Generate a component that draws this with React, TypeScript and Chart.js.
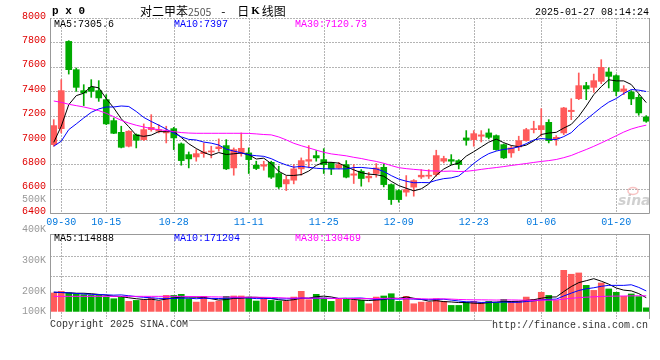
import React, { useEffect, useRef } from "react";
import { Chart, registerables } from "chart.js";

Chart.register(...registerables);

// ---------------- DATA ----------------
const DATES = [
  "09-27", "09-30",
  "10-08", "10-09", "10-10", "10-11", "10-14", "10-15", "10-16", "10-17", "10-18", "10-21",
  "10-22", "10-23", "10-24", "10-25", "10-28", "10-29", "10-30", "10-31",
  "11-01", "11-04", "11-05", "11-06", "11-07", "11-08", "11-11", "11-12", "11-13", "11-14",
  "11-15", "11-18", "11-19", "11-20", "11-21", "11-22", "11-25", "11-26", "11-27", "11-28", "11-29",
  "12-02", "12-03", "12-04", "12-05", "12-06", "12-09", "12-10", "12-11", "12-12", "12-13",
  "12-16", "12-17", "12-18", "12-19", "12-20", "12-23", "12-24", "12-25", "12-26", "12-27",
  "12-30", "12-31",
  "01-02", "01-03", "01-06", "01-07", "01-08", "01-09", "01-10", "01-13", "01-14", "01-15",
  "01-16", "01-17", "01-20", "01-21", "01-22", "01-23", "01-24",
];

const TICK_DATES = ["09-30", "10-15", "10-28", "11-11", "11-25", "12-09", "12-23", "01-06", "01-20"];

const OPEN = [
  6961, 7092, 7808, 7576, 7404, 7431, 7404, 7330, 7158, 7062,
  6948, 7043, 7002, 7084, 7071, 7057, 7092, 6967, 6879, 6860,
  6887, 6901, 6928, 6953, 6770, 6893, 6893, 6792, 6784, 6816,
  6724, 6639, 6669, 6762, 6825, 6871, 6838, 6811, 6770, 6797,
  6710, 6743, 6688, 6724, 6775, 6633, 6584, 6571, 6612, 6696,
  6702, 6715, 6825, 6838, 6830, 7016, 7002, 7030, 7057, 7035,
  6961, 6893, 6942, 6994, 7084, 7084, 7144, 7008, 7057, 7232,
  7338, 7445, 7431, 7480, 7557, 7527, 7398, 7393, 7349, 7188,
];
const HIGH = [
  7166, 7494, 7814, 7590, 7453, 7494, 7486, 7371, 7180, 7112,
  7076, 7049, 7131, 7207, 7125, 7112, 7103, 6975, 6901, 6920,
  6975, 6948, 7008, 7002, 6934, 7057, 6934, 6825, 6825, 6825,
  6784, 6702, 6797, 6852, 6953, 6912, 6928, 6816, 6816, 6830,
  6797, 6756, 6734, 6806, 6803, 6639, 6592, 6707, 6674, 6756,
  6756, 6915, 6866, 6879, 6838, 7076, 7076, 7076, 7090, 7041,
  6967, 6948, 7030, 7095, 7153, 7256, 7166, 7035, 7267, 7338,
  7549, 7472, 7540, 7658, 7590, 7535, 7445, 7404, 7371, 7199,
];
const LOW = [
  6948, 7057, 7540, 7398, 7281, 7349, 7316, 7125, 7051, 6934,
  6942, 6934, 6994, 7071, 7057, 6975, 6920, 6792, 6770, 6825,
  6857, 6852, 6907, 6756, 6710, 6866, 6724, 6756, 6751, 6683,
  6601, 6584, 6639, 6710, 6770, 6825, 6724, 6715, 6762, 6688,
  6642, 6620, 6655, 6694, 6614, 6470, 6489, 6538, 6538, 6683,
  6683, 6702, 6811, 6797, 6762, 6956, 6948, 6983, 7008, 6915,
  6847, 6857, 6912, 6989, 7057, 7030, 6975, 6956, 7043, 7166,
  7330, 7330, 7390, 7461, 7426, 7363, 7371, 7289, 7202, 7144,
];
const CLOSE = [
  7117, 7404, 7576, 7431, 7385, 7398, 7344, 7131, 7054, 6939,
  7071, 6997, 7084, 7103, 7084, 7068, 7016, 6830, 6844, 6887,
  6901, 6907, 6942, 6762, 6920, 6931, 6838, 6765, 6797, 6694,
  6614, 6674, 6762, 6830, 6838, 6852, 6797, 6762, 6797, 6694,
  6721, 6683, 6702, 6770, 6633, 6510, 6510, 6592, 6666, 6710,
  6710, 6871, 6847, 6825, 6797, 6997, 7051, 7041, 7021, 6920,
  6852, 6934, 6994, 7084, 7092, 7117, 6994, 7021, 7262, 7243,
  7445, 7418, 7486, 7595, 7521, 7398, 7418, 7336, 7221, 7153,
];

const MA5 = [
  6980, 7112, 7289, 7363, 7383, 7439, 7427, 7338, 7262, 7173,
  7108, 7038, 7029, 7039, 7068, 7067, 7071, 7020, 6968, 6929,
  6896, 6874, 6896, 6880, 6886, 6892, 6879, 6843, 6850, 6805,
  6742, 6709, 6708, 6715, 6744, 6791, 6816, 6816, 6809, 6780,
  6754, 6731, 6719, 6714, 6702, 6660, 6625, 6603, 6582, 6598,
  6638, 6710, 6761, 6793, 6810, 6867, 6903, 6942, 6981, 7006,
  6977, 6954, 6944, 6957, 6991, 7044, 7056, 7062, 7097, 7127,
  7193, 7278, 7371, 7437, 7493, 7484, 7484, 7454, 7379, 7305.6,
];
const MA10 = [
  6948, 6989, 7084, 7131, 7180, 7226, 7254, 7270, 7270, 7278,
  7274, 7233, 7184, 7151, 7121, 7088, 7055, 7025, 7004, 6999,
  6982, 6973, 6958, 6924, 6908, 6894, 6877, 6870, 6865, 6846,
  6817, 6794, 6776, 6783, 6775, 6767, 6763, 6762, 6762, 6762,
  6773, 6774, 6768, 6762, 6741, 6707, 6678, 6661, 6648, 6650,
  6649, 6668, 6682, 6688, 6704, 6753, 6807, 6852, 6887, 6908,
  6922, 6929, 6943, 6969, 6999, 7011, 7005, 7003, 7027, 7059,
  7119, 7167, 7217, 7267, 7310, 7339, 7381, 7413, 7408, 7397,
];
const MA30 = [
  7319, 7308, 7292, 7281, 7270, 7256, 7240, 7218, 7190, 7160,
  7138, 7120, 7106, 7092, 7084, 7076, 7068, 7060, 7056, 7054,
  7054, 7054, 7054, 7054, 7054, 7054, 7053, 7049, 7044, 7041,
  7024, 7000, 6972, 6952, 6934, 6916, 6898, 6885, 6877, 6869,
  6857, 6847, 6834, 6823, 6808, 6789, 6772, 6764, 6758, 6753,
  6746, 6745, 6742, 6744, 6740, 6742, 6749, 6758, 6766, 6773,
  6781, 6790, 6798, 6806, 6815, 6823, 6830, 6839, 6854, 6872,
  6897, 6921, 6947, 6975, 7004, 7034, 7064, 7089, 7107, 7120.73,
];

const VOLUME = [
  154000, 168000, 154000, 146000, 140000, 134000, 134000, 120000, 106000, 126000,
  84000, 92000, 94000, 112000, 84000, 134000, 134000, 143000, 106000, 78000,
  126000, 78000, 86000, 126000, 129000, 129000, 120000, 87000, 106000, 92000,
  87000, 84000, 120000, 168000, 98000, 143000, 112000, 84000, 101000, 106000,
  92000, 92000, 64000, 120000, 129000, 148000, 84000, 126000, 64000, 78000,
  78000, 106000, 84000, 50000, 50000, 78000, 84000, 73000, 84000, 73000,
  101000, 84000, 84000, 120000, 101000, 160000, 134000, 92000, 344000, 311000,
  322000, 218000, 176000, 238000, 188000, 160000, 126000, 146000, 124000, 30000,
];
const VOL_MA5 = [
  160000, 158000, 156000, 152000, 152000, 148000, 142000, 135000, 127000, 124000,
  114000, 106000, 100000, 102000, 93000, 103000, 112000, 121000, 120000, 119000,
  117000, 106000, 95000, 99000, 109000, 110000, 118000, 118000, 114000, 107000,
  98000, 91000, 98000, 110000, 111000, 123000, 128000, 121000, 108000, 109000,
  99000, 95000, 91000, 95000, 99000, 111000, 109000, 121000, 110000, 100000,
  86000, 90000, 82000, 79000, 74000, 74000, 69000, 67000, 74000, 78000,
  83000, 83000, 85000, 92000, 98000, 110000, 120000, 121000, 166000, 208000,
  241000, 257000, 274000, 253000, 228000, 196000, 178000, 172000, 149000, 114888,
];
const VOL_MA10 = [
  162000, 158000, 155000, 150000, 146000, 143000, 141000, 139000, 136000, 138000,
  131000, 124000, 118000, 114000, 109000, 109000, 109000, 111000, 111000, 106000,
  110000, 109000, 108000, 110000, 114000, 114000, 112000, 107000, 107000, 108000,
  104000, 105000, 108000, 112000, 109000, 111000, 110000, 109000, 109000, 110000,
  111000, 112000, 106000, 101000, 104000, 105000, 102000, 106000, 103000, 100000,
  98000, 100000, 102000, 95000, 87000, 80000, 80000, 75000, 77000, 76000,
  78000, 76000, 76000, 83000, 88000, 96000, 101000, 103000, 129000, 153000,
  175000, 189000, 198000, 210000, 218000, 218000, 218000, 223000, 201000, 171204,
];
const VOL_MA30 = [
  126000, 126000, 126000, 126000, 126000, 126000, 126000, 126000, 126000, 126000,
  126000, 126000, 126000, 126000, 126000, 126000, 126000, 126000, 125000, 124000,
  123000, 122000, 121000, 120000, 120000, 119000, 119000, 118000, 118000, 117000,
  115000, 112000, 111000, 112000, 111000, 111000, 110000, 109000, 109000, 108000,
  108000, 108000, 107000, 108000, 109000, 110000, 108000, 107000, 106000, 106000,
  104000, 105000, 105000, 103000, 100000, 98000, 97000, 97000, 96000, 95000,
  96000, 96000, 95000, 93000, 93000, 94000, 94000, 95000, 103000, 110000,
  115000, 119000, 122000, 125000, 127000, 128000, 129000, 130000, 131000, 130469,
];

// axis setup values
const PRICE_MIN = 6400;
const PRICE_MAX = 8000;
const PRICE_STEP = 200;
const VOL_MIN = -72000;
const VOL_MAX = 648000;
const VOL_GRID = [300000, 468000];
const VOL_LABELS = [500000, 400000, 300000, 200000, 100000];
const VOL_LABEL_MIN = 104900;
const VOL_LABEL_MAX = 385900;

const SYMBOL = "p x 0";
const TITLE_NAME = "对二甲苯";
const TITLE_CODE = "2505";
const TITLE_DAY = "日";
const TITLE_K = "K";
const TITLE_REST = "线图";
const TIMESTAMP = "2025-01-27 08:14:24";
const COPYRIGHT = "Copyright 2025 SINA.COM";
const SITE = "http://finance.sina.com.cn";

// ---------------- STYLE ----------------
const UP = "#ff5b5b";
const DOWN = "#00aa00";
const C_MA5 = "#000000";
const C_MA10 = "#0000ff";
const C_MA30 = "#ff00ff";
const FRAME = "#999999";
const GRID = "#b4b4b4";
const MONO = "'Liberation Mono', 'DejaVu Sans Mono', monospace";
const CJK = "'Noto Sans CJK SC', 'Noto Sans', sans-serif";

const TICK_SET = new Set(TICK_DATES);
const isTick = (i: number) => TICK_SET.has(DATES[i]);
const candleColors = DATES.map((_, i) => (CLOSE[i] >= OPEN[i] ? UP : DOWN));

const fmtK = (v: number) => `${Math.round(v / 1000)}K`;

function drawFrame(ctx: CanvasRenderingContext2D, a: any, withTop: boolean) {
  ctx.save();
  ctx.strokeStyle = FRAME;
  ctx.lineWidth = 1;
  ctx.setLineDash([]);
  ctx.beginPath();
  if (withTop) {
    ctx.moveTo(a.left + 0.5, Math.round(a.top) + 0.5);
    ctx.lineTo(a.right - 0.5, Math.round(a.top) + 0.5);
  }
  ctx.moveTo(a.left + 0.5, a.top);
  ctx.lineTo(a.left + 0.5, Math.round(a.bottom) + 0.5);
  ctx.lineTo(a.right - 0.5, Math.round(a.bottom) + 0.5);
  ctx.lineTo(a.right - 0.5, a.top);
  ctx.stroke();
  ctx.restore();
}

// grid lines drawn from the chart's own scales, beneath the candles
function drawGrid(chart: any, yValues: number[]) {
  const ctx: CanvasRenderingContext2D = chart.ctx;
  const a = chart.chartArea;
  const xs = chart.scales.x;
  const ys = chart.scales.y;
  ctx.save();
  ctx.strokeStyle = GRID;
  ctx.lineWidth = 1;
  ctx.setLineDash([2, 1]);
  ctx.beginPath();
  for (const v of yValues) {
    const y = Math.round(ys.getPixelForValue(v)) + 0.5;
    ctx.moveTo(a.left, y);
    ctx.lineTo(a.right, y);
  }
  for (let i = 0; i < DATES.length; i++) {
    if (!isTick(i)) continue;
    const x = Math.round(xs.getPixelForValue(i)) + 0.5;
    ctx.moveTo(x, a.top);
    ctx.lineTo(x, a.bottom);
  }
  ctx.stroke();
  ctx.restore();
}

function maLegend(ctx: CanvasRenderingContext2D, a: any, y: number, items: [string, string][]) {
  ctx.save();
  ctx.font = `10px ${MONO}`;
  ctx.textBaseline = "middle";
  ctx.textAlign = "left";
  const xs = [a.left + 4, a.left + 124, a.left + 245];
  items.forEach(([t, c], k) => {
    ctx.fillStyle = c;
    ctx.fillText(t, xs[k], y);
  });
  ctx.restore();
}

const PRICE_GRID_VALUES: number[] = [];
for (let v = PRICE_MIN; v <= PRICE_MAX; v += PRICE_STEP) PRICE_GRID_VALUES.push(v);

const pricePlugin = {
  id: "priceDecor",
  beforeDatasetsDraw(chart: any) {
    drawGrid(chart, PRICE_GRID_VALUES);
  },
  afterDraw(chart: any) {
    const ctx: CanvasRenderingContext2D = chart.ctx;
    const a = chart.chartArea;
    drawFrame(ctx, a, false);
    ctx.save();
    ctx.textBaseline = "middle";
    // symbol
    ctx.fillStyle = "#000";
    ctx.font = `bold 11px ${MONO}`;
    ctx.fillText(SYMBOL, a.left + 2, 11);
    // title
    let x = 140;
    ctx.font = `12px ${CJK}`;
    ctx.fillText(TITLE_NAME, x, 11);
    x += ctx.measureText(TITLE_NAME).width;
    ctx.fillStyle = "#555";
    ctx.font = `10.5px ${CJK}`;
    ctx.fillText(TITLE_CODE, x, 12);
    x += ctx.measureText(TITLE_CODE).width + 10;
    ctx.fillStyle = "#000";
    ctx.font = `12px ${CJK}`;
    ctx.fillText("-", x, 11);
    x += 16;
    ctx.fillText(TITLE_DAY, x, 11);
    x += ctx.measureText(TITLE_DAY).width + 2;
    ctx.font = `bold 11px 'Liberation Serif', serif`;
    ctx.fillText(TITLE_K, x, 11);
    x += ctx.measureText(TITLE_K).width + 2;
    ctx.font = `12px ${CJK}`;
    ctx.fillText(TITLE_REST, x, 11);
    // timestamp
    ctx.font = `10px ${MONO}`;
    ctx.textAlign = "right";
    ctx.fillText(TIMESTAMP, a.right - 1, 12);
    ctx.textAlign = "left";
    // sina watermark
    ctx.font = `italic bold 14px 'DejaVu Sans', sans-serif`;
    ctx.fillStyle = "rgba(150,150,150,0.45)";
    ctx.fillText("sina", a.right - 32, a.bottom - 12);
    ctx.strokeStyle = "rgba(240,120,120,0.45)";
    ctx.lineWidth = 1.5;
    ctx.beginPath();
    ctx.ellipse(a.right - 17, a.bottom - 22, 5, 3.5, 0, 0, Math.PI * 2);
    ctx.stroke();
    ctx.restore();
    maLegend(ctx, a, a.top + 6, [
      [`MA5:${MA5[MA5.length - 1]}`, C_MA5],
      [`MA10:${MA10[MA10.length - 1]}`, C_MA10],
      [`MA30:${MA30[MA30.length - 1]}`, C_MA30],
    ]);
  },
};

const volPlugin = {
  id: "volDecor",
  beforeDatasetsDraw(chart: any) {
    drawGrid(chart, VOL_GRID);
  },
  afterDraw(chart: any) {
    const ctx: CanvasRenderingContext2D = chart.ctx;
    const a = chart.chartArea;
    drawFrame(ctx, a, true);
    maLegend(ctx, a, a.top + 4, [
      [`MA5:${VOL_MA5[VOL_MA5.length - 1]}`, C_MA5],
      [`MA10:${VOL_MA10[VOL_MA10.length - 1]}`, C_MA10],
      [`MA30:${VOL_MA30[VOL_MA30.length - 1]}`, C_MA30],
    ]);
    const yl = chart.scales.yl;
    ctx.save();
    ctx.font = `10px ${MONO}`;
    ctx.textBaseline = "middle";
    ctx.textAlign = "right";
    ctx.fillStyle = "#999";
    VOL_LABELS.forEach((v) => {
      const y = Math.min(yl.getPixelForValue(v), a.bottom - 9);
      ctx.fillText(fmtK(v), a.left - 4, y);
    });
    // footer
    ctx.textAlign = "left";
    ctx.font = `10px ${MONO}`;
    const cy = a.bottom + 4;
    const w1 = ctx.measureText(COPYRIGHT).width;
    ctx.fillStyle = "#fff";
    ctx.fillRect(a.left, a.bottom - 1, w1 + 1, 11);
    ctx.fillStyle = "#333";
    ctx.fillText(COPYRIGHT, a.left, cy);
    ctx.textAlign = "right";
    const w2 = ctx.measureText(SITE).width;
    ctx.fillStyle = "#fff";
    ctx.fillRect(a.right - 2 - w2, a.bottom - 1, w2 + 2, 12);
    ctx.fillStyle = "#333";
    ctx.fillText(SITE, a.right - 2, cy + 1);
    ctx.restore();
  },
};

function lineDs(data: number[], color: string, yAxisID = "y") {
  return {
    type: "line" as const,
    data,
    borderColor: color,
    borderWidth: 1,
    pointRadius: 0,
    tension: 0,
    fill: false,
    order: 0,
    yAxisID,
  };
}

export default function App() {
  const priceRef = useRef<HTMLCanvasElement>(null);
  const volRef = useRef<HTMLCanvasElement>(null);

  useEffect(() => {
    const price = new Chart(priceRef.current as HTMLCanvasElement, {
      type: "bar",
      data: {
        labels: DATES,
        datasets: [
          {
            type: "bar",
            data: DATES.map((_, i) => [LOW[i], HIGH[i]]) as any,
            backgroundColor: candleColors,
            barThickness: 1,
            grouped: false,
            order: 3,
          } as any,
          {
            type: "bar",
            data: DATES.map((_, i) => [OPEN[i], CLOSE[i]]) as any,
            backgroundColor: candleColors,
            barThickness: 6,
            minBarLength: 1,
            grouped: false,
            order: 2,
          } as any,
          lineDs(MA30, C_MA30),
          lineDs(MA10, C_MA10),
          lineDs(MA5, C_MA5),
        ],
      },
      options: {
        responsive: false,
        animation: false,
        events: [],
        layout: { padding: { top: 18, right: 10, left: 0, bottom: 0 } },
        plugins: { legend: { display: false }, tooltip: { enabled: false } },
        scales: {
          x: {
            type: "category",
            offset: true,
            grid: { display: false, drawTicks: false, offset: false },
            border: { display: false },
            ticks: {
              autoSkip: false,
              maxRotation: 0,
              minRotation: 0,
              padding: 3,
              color: "#0077dd",
              font: { family: MONO, size: 10 },
              callback: (_v: any, i: number) => (isTick(i) ? DATES[i] : ""),
            },
            afterFit: (s: any) => {
              s.height = 19;
            },
          } as any,
          y: {
            type: "linear",
            min: PRICE_MIN,
            max: PRICE_MAX,
            ticks: {
              stepSize: PRICE_STEP,
              padding: 4,
              labelOffset: -2,
              color: "#e00000",
              font: { family: MONO, size: 10 },
              callback: (v: any) => String(v),
            },
            grid: { display: false, drawTicks: false },
            border: { display: false },
            afterFit: (s: any) => {
              s.width = 50;
            },
          } as any,
        },
      },
      plugins: [pricePlugin],
    });

    const vol = new Chart(volRef.current as HTMLCanvasElement, {
      type: "bar",
      data: {
        labels: DATES,
        datasets: [
          {
            type: "bar",
            data: VOLUME,
            backgroundColor: candleColors,
            barThickness: 6,
            order: 2,
            yAxisID: "y",
          } as any,
          lineDs(VOL_MA30, C_MA30),
          lineDs(VOL_MA10, C_MA10),
          lineDs(VOL_MA5, C_MA5),
        ],
      },
      options: {
        responsive: false,
        animation: false,
        events: [],
        layout: { padding: { top: 39, right: 10, left: 0, bottom: 40 } },
        plugins: { legend: { display: false }, tooltip: { enabled: false } },
        scales: {
          x: {
            type: "category",
            offset: true,
            grid: { display: false, drawTicks: false },
            border: { display: false },
            ticks: { display: false, autoSkip: false, maxRotation: 0 },
            afterFit: (s: any) => {
              s.height = 0;
            },
          } as any,
          y: {
            type: "linear",
            min: VOL_MIN,
            max: VOL_MAX,
            ticks: { display: false },
            grid: { display: false, drawTicks: false },
            border: { display: false },
            afterFit: (s: any) => {
              s.width = 50;
            },
          } as any,
          yl: {
            type: "linear",
            display: false,
            min: VOL_LABEL_MIN,
            max: VOL_LABEL_MAX,
          } as any,
        },
      },
      plugins: [volPlugin],
    });

    return () => {
      price.destroy();
      vol.destroy();
    };
  }, []);

  return (
    <div
      style={{
        position: "absolute",
        left: 0,
        top: 0,
        width: 660,
        height: 360,
        background: "#ffffff",
        overflow: "hidden",
      }}
    >
      <canvas
        ref={priceRef}
        width={660}
        height={232}
        style={{ position: "absolute", left: 0, top: 0 }}
      />
      <canvas
        ref={volRef}
        width={660}
        height={165}
        style={{ position: "absolute", left: 0, top: 195 }}
      />
    </div>
  );
}
